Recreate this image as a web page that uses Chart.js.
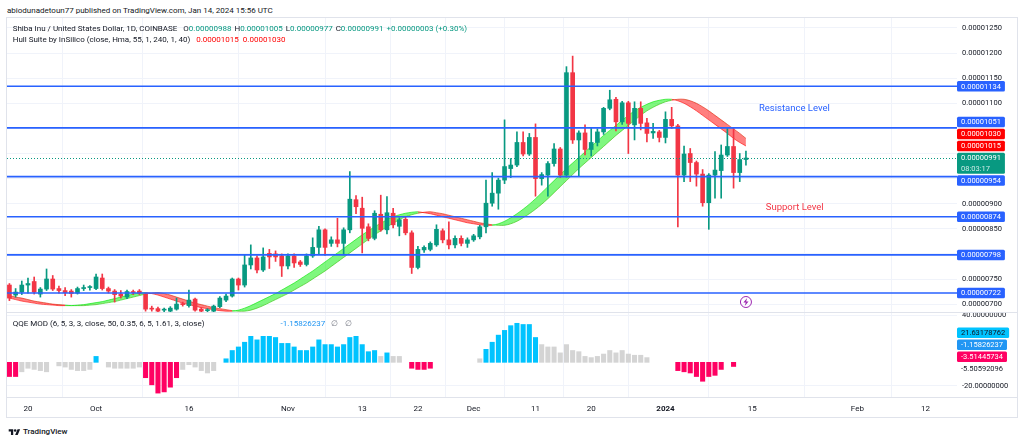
<!DOCTYPE html>
<html>
<head>
<meta charset="utf-8">
<title>SHIB/USD 1D - Hull Suite + QQE MOD</title>
<script src="https://cdn.jsdelivr.net/npm/chart.js@4.4.1/dist/chart.umd.min.js"></script>
<style>
  html, body { margin: 0; padding: 0; background: #fff; }
  body { width: 1024px; height: 443px; position: relative; overflow: hidden;
         font-family: Roboto, "Liberation Sans", sans-serif; color: #131722; }
  .txt { position: absolute; white-space: nowrap; font-size: 8px; line-height: 11.4px; }
  #frame { position: absolute; left: 6px; top: 17px; width: 1012px; height: 401px;
           border: 1px solid #e0e3eb; box-sizing: border-box; }
  canvas { position: absolute; left: 7px; }
  #priceChart { top: 18px; }
  #qqeChart { top: 313px; }
  .sep { position: absolute; left: 7px; width: 1010px; height: 1px; background: #e0e3eb; }
  .up { color: #089981; }
  .hull { color: #ff0000; }
  .k { margin-left: 3px; }
  .first { margin-left: 6px; }
  #footer { position: absolute; left: 8px; top: 427px; font-size: 8px; font-weight: 500;
            line-height: 10px; display: flex; align-items: center; gap: 2px; }
</style>
</head>
<body>
<div class="txt" style="left:7px; top:4.5px;">abiodunadetoun77 published on TradingView.com, Jan 14, 2024 15:56 UTC</div>
<div id="frame"></div>
<canvas id="priceChart" width="1010" height="294" style="width:1010px;height:294px"></canvas>
<div class="sep" style="top:312px"></div>
<canvas id="qqeChart" width="1010" height="104" style="width:1010px;height:104px"></canvas>
<div class="sep" style="top:397px"></div>

<div class="txt" style="left:12.7px; top:22.6px;">
  <div>Shiba Inu / United States Dollar, 1D, COINBASE<span id="ohlc"></span></div>
  <div>Hull Suite by InSilico (close, Hma, 55, 1, 240, 1, 40)<span id="hullVals"></span></div>
</div>
<div class="txt" style="left:12.7px; top:317.5px;">QQE MOD (6, 5, 3, 3, close, 50, 0.35, 6, 5, 1.61, 3, close)</div>
<div class="txt" style="left:280.5px; top:317.5px; color:#2196f3;">-1.15826237</div>
<div class="txt" style="left:331px; top:317.5px; color:#787b86;">∅</div>
<div class="txt" style="left:345px; top:317.5px; color:#787b86;">∅</div>

<div id="footer">
  <svg width="13" height="9" viewBox="0 0 36 28"><path d="M14 22H7V11H0V4h14v18zM28 22h-8l7.5-18h8L28 22z" fill="#131722"/><circle cx="20" cy="8" r="4" fill="#131722"/></svg>
  <span>TradingView</span>
</div>

<script>
// daily candles, Sep 17 2023 .. Jan 14 2024, prices in units of 0.00000001 USD
const opens = [738,718,724,738,745,720,730,750,731,727,
  726,722,731,733,731,752,731,726,720,714,
  725,726,720,692,691,688,686,690,701,697,
  710,690,687,686,695,708,716,750,738,778,
  792,768,801,800,796,776,796,784,779,796,
  813,848,821,828,821,848,908,891,854,831,
  879,848,881,855,869,842,773,808,809,818,
  846,828,818,831,821,828,834,854,901,921,
  947,970,977,1022,999,1032,950,957,980,1009,
  957,1161,1027,1041,1008,1022,1043,1090,1108,1063,
  1101,1057,1090,1061,1041,1043,1032,1068,1055,957,
  1000,982,959,902,957,966,997,1014,962,988];
const highs = [741,731,746,752,754,733,770,757,736,733,
  729,734,738,737,760,760,734,729,727,728,
  728,729,722,696,694,692,695,712,704,728,
  712,693,691,698,715,720,752,752,798,818,
  796,812,809,806,800,800,800,787,800,832,
  855,850,834,871,852,964,916,913,860,886,
  917,914,891,872,873,846,815,816,824,858,
  850,864,836,836,832,839,857,947,962,951,
  1067,990,1043,1043,1040,1059,962,984,1020,1012,
  1173,1194,1045,1057,1050,1049,1092,1126,1112,1104,
  1104,1103,1103,1070,1060,1046,1083,1092,1058,1015,
  1010,985,968,960,1004,1017,1050,1050,1000,1005];
const lows = [707,714,719,722,720,714,727,727,722,717,
  714,720,727,728,729,728,722,704,712,711,
  719,719,686,686,685,685,685,688,696,694,
  686,685,685,685,693,705,714,728,734,770,
  762,765,771,785,755,770,773,775,776,793,
  800,797,815,814,798,842,880,802,826,828,
  845,840,852,836,838,761,770,803,806,815,
  822,810,812,816,813,825,830,842,895,889,
  940,952,974,995,996,915,937,915,975,952,
  953,1020,955,997,995,1015,1038,1087,1045,1058,
  1000,1027,1047,1023,1030,1023,1021,1050,854,944,
  944,935,895,849,911,911,994,931,944,977];
const closes = [712,724,738,741,724,730,750,730,727,723,
  721,731,733,734,754,731,726,719,716,725,
  723,722,690,690,686,689,692,700,699,708,
  688,686,688,696,712,716,750,738,778,792,
  768,794,794,794,776,796,782,779,796,813,
  848,813,828,821,848,909,894,851,831,881,
  848,882,858,868,842,773,809,813,821,849,
  828,818,831,821,828,836,854,901,921,947,
  974,977,1022,999,1032,950,958,980,1009,957,
  1161,1027,1041,1008,1022,1043,1090,1107,1063,1101,
  1060,1090,1060,1040,1044,1032,1068,1055,957,999,
  982,959,902,957,967,997,1014,962,988,991];

// Hull Suite: HULL and HULL[2]
const hull = [712,709,706,704,702,700,699,698,697,697,
  697,698,699,701,703,705,708,711,714,717,
  720,722,723,721,718,714,710,706,702,699,
  696,693,691,689,687,686,686,688,692,697,
  703,709,715,721,728,735,742,750,758,766,
  775,784,793,802,811,820,829,838,846,854,
  861,868,874,878,881,883,884,882,880,877,
  874,871,868,865,862,860,858,857,857,860,
  865,872,880,889,899,910,922,934,946,958,
  970,981,992,1003,1014,1025,1036,1046,1056,1066,
  1076,1085,1092,1098,1103,1106,1108,1108,1105,1100,
  1093,1085,1076,1067,1058,1049,1040,1030,1022,1015];
const hullPrev = [717,714,712,709,706,704,702,700,699,698,
  697,697,697,698,699,701,703,705,708,711,
  714,717,720,722,723,721,718,714,710,706,
  702,699,696,693,691,689,687,686,686,688,
  692,697,703,709,715,721,728,735,742,750,
  758,766,775,784,793,802,811,820,829,838,
  846,854,861,868,874,878,881,883,884,882,
  880,877,874,871,868,865,862,860,858,857,
  857,860,865,872,880,889,899,910,922,934,
  946,958,970,981,992,1003,1014,1025,1036,1046,
  1056,1066,1076,1085,1092,1098,1103,1106,1108,1108,
  1105,1100,1093,1085,1076,1067,1058,1049,1040,1030];

// QQE MOD histogram and its state (1 above band, 0 neutral, -1 below band)
const qqe = [-12,-12,-8,-5,-6,-7,-8,null,-3,-4,
  -6,-7,-7,-6,5,null,-4,-5,-5,-5,
  -5,-4,-13,-19,-26,-25,-21,-13,-6,-2,
  -4,-7,-9,-7,null,3,10,13,17,22,
  19,22,22,21,16,16,13,10,10,13,
  19,15,15,13,15,21,22,15,9,10,
  5,8,5,5,null,-5,-6,-6,-5,null,
  null,null,null,null,null,null,3,11,17,23,
  27,31,33,32,32,21,15,13,13,8,
  15,10,9,5,4,5,7,10,8,10,
  7,6,6,4,null,null,null,null,-7,-8,
  -9,-12,-16,-12,-11,-6,null,-3.5,null,null];
const qqeSignal = [-1,-1,0,0,0,0,0,0,0,0,
  0,0,0,0,1,0,0,0,0,0,
  0,0,-1,-1,-1,-1,-1,-1,0,0,
  0,0,0,0,0,1,1,1,1,1,
  1,1,1,1,1,1,1,1,1,1,
  1,1,1,1,1,1,1,1,1,1,
  0,1,0,0,0,-1,-1,-1,-1,0,
  0,0,0,0,0,0,0,1,1,1,
  1,1,1,1,1,1,0,0,0,0,
  0,0,0,0,0,0,0,0,0,0,
  0,0,0,0,0,0,0,0,-1,-1,
  -1,-1,-1,-1,-1,-1,0,-1,0,0];
const qqeLastValues = [21.63178762, -1.15826237, -3.51445734, -5.50592096];

// horizontal support / resistance lines
const levels = [1134, 1051, 954, 874, 798, 722];

// axis ticks (days counted from Sep 17 2023)
const tickDays = [3, 14, 29, 45, 57, 66, 75, 85, 94, 106, 120, 137, 148];
const tickLabels = ['20', 'Oct', '16', 'Nov', '13', '22', 'Dec', '11', '20', '2024', '15', 'Feb', '12'];
const priceTicks = [700, 750, 800, 850, 900, 950, 1000, 1050, 1100, 1150, 1200, 1250];
const qqeTicks = [40, -20];
const countdown = '08:03:17';

const FONT = 'Roboto, "Liberation Sans", sans-serif';
const UP = '#089981', DOWN = '#f23645', GRID = '#f0f3fa', TEXT = '#131722', LEVEL = '#2962ff';
const X_MIN = -0.39, X_MAX = 153.1;
const BOX_H = 10.5;
const fmt = v => (v / 1e8).toFixed(8);
const last = closes.length - 1;

const notes = [
  { text: 'Resistance Level', day: 121.1, price: 1088.6, color: LEVEL },
  { text: 'Support Level', day: 122.2, price: 891.4, color: DOWN }
];

// legend
const chg = closes[last] - closes[last - 1];
const pct = chg / closes[last - 1] * 100;
const sign = chg >= 0 ? '+' : '-';
document.getElementById('ohlc').innerHTML =
  `<span class="first">O</span><span class="up">${fmt(opens[last])}</span>` +
  `<span class="k">H</span><span class="up">${fmt(highs[last])}</span>` +
  `<span class="k">L</span><span class="up">${fmt(lows[last])}</span>` +
  `<span class="k">C</span><span class="up">${fmt(closes[last])}</span>` +
  `<span class="k up">${sign}${fmt(Math.abs(chg))} (${sign}${Math.abs(pct).toFixed(2)}%)</span>`;
document.getElementById('hullVals').innerHTML =
  `<span class="first hull">${fmt(hull[last])}</span><span class="k hull" style="margin-left:4px">${fmt(hullPrev[last])}</span>`;

function noPad(s) {
  s.paddingTop = 0; s.paddingBottom = 0; s.paddingLeft = 0; s.paddingRight = 0;
}

function stackBoxes(items, gap) {
  items.sort((a, b) => a.top - b.top);
  const k = items.findIndex(it => it.anchor);
  for (let i = k - 1; i >= 0; i--) {
    const lim = items[i + 1].top - gap - items[i].h;
    if (items[i].top > lim) items[i].top = lim;
  }
  for (let i = k + 1; i < items.length; i++) {
    const lim = items[i - 1].top + items[i - 1].h + gap;
    if (items[i].top < lim) items[i].top = lim;
  }
  return items;
}

function makeBox(scale, v, lines, bg, fg, fg2) {
  return { top: scale.getPixelForValue(v) - BOX_H / 2, h: BOX_H * lines.length, lines, bg, fg, fg2 };
}

function drawBox(ctx, x, it) {
  ctx.font = `7.5px ${FONT}`;
  ctx.textAlign = 'left';
  ctx.textBaseline = 'middle';
  const w = Math.max(...it.lines.map(t => ctx.measureText(t).width)) + 8;
  if (it.bg) {
    ctx.fillStyle = it.bg;
    ctx.beginPath();
    if (ctx.roundRect) ctx.roundRect(x, it.top, w, it.h, 1.5); else ctx.rect(x, it.top, w, it.h);
    ctx.fill();
  }
  it.lines.forEach((t, j) => {
    ctx.fillStyle = j > 0 && it.fg2 ? it.fg2 : it.fg;
    ctx.fillText(t, x + 4, it.top + BOX_H / 2 + j * BOX_H + 0.5);
  });
}

const priceMarks = {
  id: 'priceMarks',
  afterDatasetsDraw(chart) {
    const { ctx, chartArea: a, scales: { x, y } } = chart;
    ctx.save();
    ctx.beginPath();
    ctx.rect(a.left, a.top, a.right - a.left, a.bottom - a.top);
    ctx.clip();

    // last price line
    const py = Math.round(y.getPixelForValue(closes[last])) + 0.5;
    ctx.strokeStyle = UP;
    ctx.lineWidth = 1;
    ctx.setLineDash([1, 2]);
    ctx.beginPath(); ctx.moveTo(a.left, py); ctx.lineTo(a.right, py); ctx.stroke();
    ctx.setLineDash([]);

    // support / resistance lines
    ctx.strokeStyle = LEVEL;
    ctx.lineWidth = 1.6;
    for (const v of levels) {
      const ly = y.getPixelForValue(v);
      ctx.beginPath(); ctx.moveTo(a.left, ly); ctx.lineTo(a.right, ly); ctx.stroke();
    }

    ctx.font = `9.5px ${FONT}`;
    ctx.textAlign = 'left';
    ctx.textBaseline = 'middle';
    for (const n of notes) {
      ctx.fillStyle = n.color;
      ctx.fillText(n.text, x.getPixelForValue(n.day), y.getPixelForValue(n.price));
    }

    // alert icon under the last bar
    const cx = x.getPixelForValue(last), cy = a.bottom - 10;
    ctx.strokeStyle = '#9c27b0';
    ctx.lineWidth = 1;
    ctx.beginPath(); ctx.arc(cx, cy, 5.5, 0, Math.PI * 2); ctx.stroke();
    ctx.fillStyle = '#9c27b0';
    ctx.beginPath();
    ctx.moveTo(cx + 1.2, cy - 4); ctx.lineTo(cx - 2.6, cy + 0.6); ctx.lineTo(cx - 0.2, cy + 0.6);
    ctx.lineTo(cx - 1.2, cy + 4); ctx.lineTo(cx + 2.6, cy - 0.6); ctx.lineTo(cx + 0.2, cy - 0.6);
    ctx.closePath(); ctx.fill();
    ctx.restore();
  },
  afterDraw(chart) {
    const { ctx, chartArea: a, scales: { y } } = chart;
    const items = levels.map(v => makeBox(y, v, [fmt(v)], LEVEL, '#fff'));
    items.push(makeBox(y, hullPrev[last], [fmt(hullPrev[last])], '#ff0000', '#fff'));
    items.push(makeBox(y, hull[last], [fmt(hull[last])], '#ff0000', '#fff'));
    const cur = makeBox(y, closes[last], [fmt(closes[last]), countdown], UP, '#fff', 'rgba(255,255,255,0.8)');
    cur.anchor = true;
    items.push(cur);
    ctx.save();
    stackBoxes(items, 1.5).forEach(it => drawBox(ctx, a.right, it));
    ctx.restore();
  }
};

const qqeMarks = {
  id: 'qqeMarks',
  afterDraw(chart) {
    const { ctx, chartArea: a, scales: { y } } = chart;
    const styles = [['#00c3ff', TEXT], ['#2196f3', '#fff'], ['#ff0062', '#fff'], [null, TEXT]];
    const items = qqeLastValues.map((v, i) => makeBox(y, v, [v.toFixed(8)], styles[i][0], styles[i][1]));
    items[items.length - 1].anchor = true;
    ctx.save();
    stackBoxes(items, 1.5).forEach(it => drawBox(ctx, a.right, it));
    ctx.restore();
  }
};

const candleColors = opens.map((o, i) => closes[i] >= o ? UP : DOWN);
const trendUp = i => hull[i] >= hullPrev[i];

new Chart(document.getElementById('priceChart'), {
  type: 'bar',
  data: {
    datasets: [
      {
        label: 'body',
        data: opens.map((o, i) => ({ x: i, y: [o, closes[i]] })),
        backgroundColor: candleColors,
        barThickness: 4,
        minBarLength: 1,
        grouped: false,
        order: 0
      },
      {
        label: 'wick',
        data: lows.map((l, i) => ({ x: i, y: [l, highs[i]] })),
        backgroundColor: candleColors,
        barThickness: 1,
        grouped: false,
        order: 1
      },
      {
        type: 'line',
        label: 'HULL',
        data: hull.map((v, i) => ({ x: i, y: v })),
        borderWidth: 1,
        pointRadius: 0,
        tension: 0.3,
        borderColor: 'rgba(0,230,0,0.6)',
        segment: { borderColor: c => trendUp(c.p1DataIndex) ? 'rgba(0,230,0,0.6)' : 'rgba(255,0,0,0.6)' },
        fill: { target: 3, above: 'rgba(0,240,0,0.5)', below: 'rgba(255,0,0,0.5)' },
        order: 2
      },
      {
        type: 'line',
        label: 'HULL[2]',
        data: hullPrev.map((v, i) => ({ x: i, y: v })),
        borderWidth: 1,
        pointRadius: 0,
        tension: 0.3,
        borderColor: 'rgba(0,230,0,0.6)',
        segment: { borderColor: c => trendUp(c.p1DataIndex) ? 'rgba(0,230,0,0.6)' : 'rgba(255,0,0,0.6)' },
        fill: false,
        order: 3
      }
    ]
  },
  options: {
    responsive: false,
    animation: false,
    events: [],
    layout: { padding: 0 },
    plugins: { legend: { display: false }, tooltip: { enabled: false } },
    scales: {
      x: {
        type: 'linear', min: X_MIN, max: X_MAX, offset: false,
        afterBuildTicks: s => { s.ticks = tickDays.map(v => ({ value: v })); },
        ticks: { display: false },
        grid: { color: GRID, drawTicks: false },
        border: { display: false },
        afterFit: s => { s.height = 0; noPad(s); }
      },
      y: {
        position: 'right', min: 684.3, max: 1269.9,
        afterBuildTicks: s => { s.ticks = priceTicks.map(v => ({ value: v })); },
        ticks: {
          padding: 5, color: TEXT, font: { family: FONT, size: 7.5 },
          callback: v => [...levels, hull[last], hullPrev[last], closes[last]].some(b => Math.abs(b - v) < 12) ? '' : fmt(v)
        },
        grid: { color: GRID, drawTicks: false },
        border: { display: false },
        afterFit: s => { s.width = 60; noPad(s); }
      }
    }
  },
  plugins: [priceMarks]
});

const qqePoints = [], qqeColors = [];
qqe.forEach((v, i) => {
  if (v === null) return;
  qqePoints.push({ x: i, y: v });
  qqeColors.push(qqeSignal[i] > 0 ? '#00c3ff' : qqeSignal[i] < 0 ? '#ff0062' : '#d4d4d4');
});

new Chart(document.getElementById('qqeChart'), {
  type: 'bar',
  data: {
    datasets: [{
      label: 'QQE histogram',
      data: qqePoints,
      backgroundColor: qqeColors,
      barThickness: 4.4,
      grouped: false
    }]
  },
  options: {
    responsive: false,
    animation: false,
    events: [],
    layout: { padding: 0 },
    plugins: { legend: { display: false }, tooltip: { enabled: false } },
    scales: {
      x: {
        type: 'linear', min: X_MIN, max: X_MAX, offset: false,
        afterBuildTicks: s => { s.ticks = tickDays.map(v => ({ value: v })); },
        ticks: {
          autoSkip: false, maxRotation: 0, padding: 7, color: TEXT,
          font: c => ({ family: FONT, size: 8, weight: c.tick && tickLabels[tickDays.indexOf(c.tick.value)] === '2024' ? 'bold' : 'normal' }),
          callback: (v, i) => tickLabels[i]
        },
        grid: { color: GRID, drawTicks: false },
        border: { display: false },
        afterFit: s => { s.height = 20; noPad(s); }
      },
      y: {
        position: 'right', min: -29.3, max: 41.7,
        afterBuildTicks: s => { s.ticks = qqeTicks.map(v => ({ value: v })); },
        ticks: { padding: 5, color: TEXT, font: { family: FONT, size: 7.5 }, callback: v => v.toFixed(8) },
        grid: { color: GRID, drawTicks: false },
        border: { display: false },
        afterFit: s => { s.width = 60; noPad(s); }
      }
    }
  },
  plugins: [qqeMarks]
});
</script>
</body>
</html>
